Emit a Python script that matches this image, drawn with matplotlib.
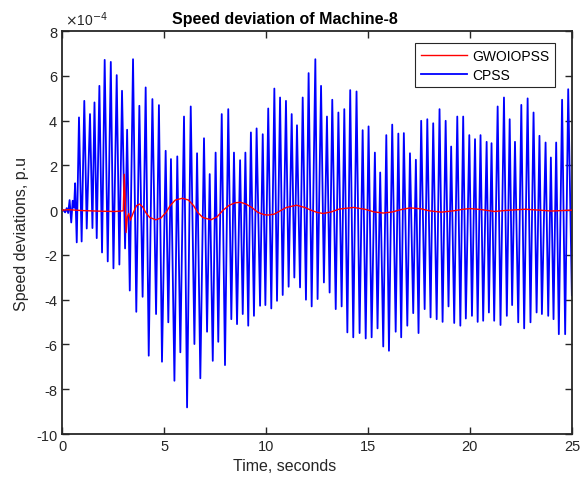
import matplotlib
matplotlib.use("Agg")
import matplotlib.pyplot as plt
import numpy as np
from matplotlib.ticker import FuncFormatter

# values, speed deviation in units of 1e-4 p.u
cpss_t = [0.00, 0.07, 0.15, 0.23, 0.30, 0.37, 0.45, 0.52, 0.59, 0.64, 0.72,
          0.83, 0.96, 1.09, 1.21, 1.37, 1.49, 1.59, 1.70, 1.83, 1.96, 2.09,
          2.24, 2.39, 2.52, 2.68, 2.81, 2.94, 3.09, 3.19, 3.32, 3.48, 3.64,
          3.79, 3.95, 4.10, 4.25, 4.43, 4.61, 4.75, 4.90, 5.08, 5.21, 5.34,
          5.51, 5.65, 5.80, 5.98, 6.13, 6.31, 6.49, 6.62, 6.78, 6.96, 7.11,
          7.24, 7.39, 7.53, 7.66, 7.83, 7.99, 8.15, 8.30, 8.43, 8.58, 8.73,
          8.86, 8.99, 9.13, 9.26, 9.41, 9.54, 9.71, 9.84, 9.97, 10.11, 10.26,
          10.41, 10.54, 10.69, 10.82, 10.98, 11.11, 11.26, 11.39, 11.52,
          11.67, 11.80, 11.96, 12.09, 12.24, 12.42, 12.53, 12.70, 12.84,
          12.99, 13.12, 13.25, 13.42, 13.55, 13.71, 13.84, 13.99, 14.13,
          14.28, 14.44, 14.59, 14.74, 14.89, 15.03, 15.18, 15.34, 15.47,
          15.60, 15.75, 15.90, 16.03, 16.19, 16.36, 16.49, 16.63, 16.76,
          16.93, 17.06, 17.22, 17.35, 17.48, 17.61, 17.78, 17.91, 18.07,
          18.20, 18.37, 18.51, 18.66, 18.81, 18.95, 19.08, 19.23, 19.38,
          19.53, 19.67, 19.80, 19.97, 20.10, 20.25, 20.38, 20.52, 20.65,
          20.82, 20.93, 21.06, 21.19, 21.36, 21.50, 21.67, 21.81, 21.95,
          22.07, 22.21, 22.37, 22.52, 22.66, 22.83, 22.97, 23.12, 23.27,
          23.41, 23.53, 23.71, 23.84, 23.97, 24.10, 24.23, 24.36, 24.52,
          24.67, 24.82, 25.00]
cpss_v = [0.00, 0.00, -0.10, 0.09, -0.13, 0.45, -0.55, 0.42, 0.10, 1.20, -1.44,
          4.14, -1.40, 4.88, -0.82, 4.29, -0.80, 4.81, -1.25, 5.55, -1.89, 6.71,
          -2.29, 6.62, -2.60, 6.03, -2.43, 5.33, -1.71, 3.59, -3.59, 6.74, -4.54,
          4.66, -3.87, 5.48, -6.50, 4.96, -4.64, 4.69, -6.77, 2.65, -5.01, 2.28,
          -7.62, 2.40, -6.35, 4.18, -8.81, 4.63, -5.98, 2.54, -7.51, 3.21, -5.43,
          1.61, -6.73, 2.57, -5.88, 4.29, -6.92, 4.51, -4.87, 2.57, -5.09, 2.23,
          -4.64, 2.57, -5.16, 3.47, -4.72, 3.65, -4.27, 3.39, -4.24, 4.54, -4.39,
          5.43, -4.05, 5.03, -3.79, 4.88, -3.42, 4.29, -3.01, 3.79,
          -3.45, 5.03, -4.00, 6.12, -4.30, 6.74, -3.97, 5.55, -3.23,
          4.18, -3.68, 4.93, -4.42, 4.36, -4.30, 4.51, -5.46, 5.36,
          -5.68, 5.30, -5.49, 3.57, -5.73, 3.74, -5.68, 2.57, -5.28,
          1.68, -6.09, 3.35, -6.28, 3.82, -5.43, 3.42, -5.68, 3.44,
          -5.16, 2.54, -4.60, 2.25, -5.49, 3.99, -4.42, 4.06, -4.79,
          3.88, -4.87, 4.51, -4.99, 3.99, -4.30, 2.84, -5.04, 4.18,
          -5.16, 4.18, -4.84, 3.35, -4.72, 3.17, -4.99, 3.35, -4.94,
          3.05, -4.57, 2.99, -4.94, 4.63, -5.13, 5.03, -4.72, 4.06,
          -4.24, 3.05, -5.01, 4.70, -5.28, 4.99, -5.01, 4.36, -4.57,
          3.32, -4.64, 3.02, -4.72, 2.35, -4.87, 3.02, -5.54, 4.93,
          -5.54, 5.40, -3.80]

gwo_t = [0.00, 0.30, 1.00, 2.00, 2.60, 3.00, 3.05, 3.10, 3.14, 3.20, 3.27,
         3.35, 3.50, 3.65, 3.80, 3.95, 4.10, 4.30, 4.60, 4.85, 5.10, 5.30,
         5.55, 5.90, 6.20, 6.45, 6.65, 6.90, 7.30, 7.60, 7.90, 8.20, 8.50,
         8.75, 9.00, 9.30, 9.60, 9.90, 10.10, 10.40, 10.70, 11.00, 11.50,
         11.90, 12.20, 12.50, 12.80, 13.20, 13.60, 14.30, 14.90, 15.30,
         15.75, 16.20, 16.60, 17.06, 17.60, 18.00, 18.60, 19.20, 19.60,
         20.00, 20.60, 21.20, 21.80, 22.70, 23.40, 24.00, 24.50, 25.00]
gwo_v = [0.00, 0.02, -0.02, -0.05, -0.06, -0.03, 1.60, 0.30, -1.00, -0.30,
         -0.15, -0.45, -0.10, 0.20, 0.27, 0.15, -0.10, -0.33, -0.43, -0.35,
         -0.10, 0.20, 0.45, 0.53, 0.45, 0.20, -0.10, -0.33, -0.43, -0.30,
         0.00, 0.22, 0.33, 0.35, 0.28, 0.12, -0.10, -0.20, -0.22, -0.18,
         -0.03, 0.12, 0.22, 0.12, 0.00, -0.10, -0.15, -0.08, 0.05, 0.12,
         0.03, -0.08, -0.13, -0.08, 0.02, 0.10, 0.06, -0.03, -0.09, -0.03,
         0.03, 0.07, 0.02, -0.06, -0.01, 0.04, 0.00, -0.04, -0.02, 0.00]

x_ticks = [0, 5, 10, 15, 20, 25]
y_ticks = [-10, -8, -6, -4, -2, 0, 2, 4, 6, 8]
scale = 1e-4

plt.rcParams['font.family'] = ['Liberation Sans', 'DejaVu Sans']

fig = plt.figure(figsize=(5.8, 4.85), dpi=100)
ax = fig.add_axes([0.107, 0.103, 0.879, 0.831])

ax.plot(np.array(cpss_t), np.array(cpss_v) * scale, color='#0000ff',
        lw=1.3, label='CPSS', zorder=2)
ax.plot(np.array(gwo_t), np.array(gwo_v) * scale, color='#ff0000',
        lw=1.0, label='GWOIOPSS', zorder=3)

ax.set_xlim(0, 25)
ax.set_ylim(-10 * scale, 8 * scale)
ax.set_xticks(x_ticks)
ax.set_yticks([v * scale for v in y_ticks])
# MATLAB style: plain labels with a shared exponent above the axis
ax.yaxis.set_major_formatter(FuncFormatter(lambda v, p: f'{v / scale:.0f}'))
ax.text(0.005, 1.008, r'$\times$10$^{-4}$', transform=ax.transAxes,
        fontsize=10, color='#262626', ha='left', va='bottom')

ax.tick_params(direction='in', top=True, right=True, length=5, width=1.0,
               labelsize=10.5, colors='#262626')
for s in ax.spines.values():
    s.set_linewidth(1.3)
    s.set_color('#262626')

# title and xlabel sit left of the axes centre in the reference
ax.set_title('Speed deviation of Machine-8', fontsize=11.5, fontweight='bold',
             pad=6, x=0.437)
ax.set_xlabel('Time, seconds', fontsize=11.5, color='#262626')
ax.xaxis.label.set_x(0.437)
ax.set_ylabel('Speed deviations, p.u', fontsize=11.5, color='#262626',
              labelpad=5)

handles, labels = ax.get_legend_handles_labels()
leg = ax.legend(handles[::-1], labels[::-1], loc='upper right',
                bbox_to_anchor=(0.967, 0.970), borderaxespad=0,
                fancybox=False, framealpha=1, edgecolor='#262626',
                fontsize=10, handlelength=3.3, handletextpad=0.4,
                labelspacing=0.35, borderpad=0.4)
leg.get_frame().set_linewidth(0.8)

fig.savefig('out.png', dpi=100)
